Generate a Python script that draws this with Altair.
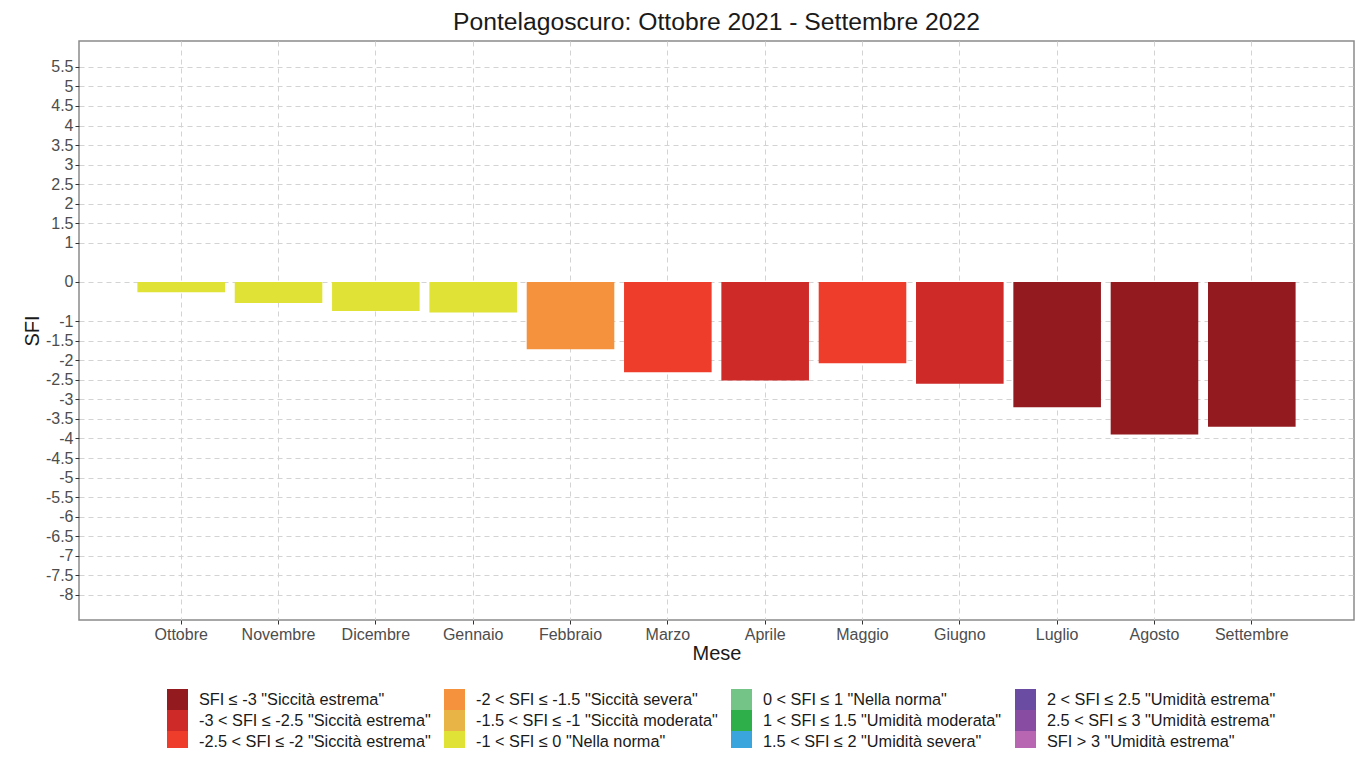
import altair as alt
import pandas as pd

months = ["Ottobre", "Novembre", "Dicembre", "Gennaio", "Febbraio", "Marzo",
          "Aprile", "Maggio", "Giugno", "Luglio", "Agosto", "Settembre"]
sfi = [-0.26, -0.54, -0.74, -0.78, -1.72, -2.31, -2.52, -2.08, -2.60, -3.20, -3.90, -3.70]

class_labels = [
    'SFI ≤ -3 "Siccità estrema"',
    '-3 < SFI ≤ -2.5 "Siccità estrema"',
    '-2.5 < SFI ≤ -2 "Siccità estrema"',
    '-2 < SFI ≤ -1.5 "Siccità severa"',
    '-1.5 < SFI ≤ -1 "Siccità moderata"',
    '-1 < SFI ≤ 0 "Nella norma"',
    '0 < SFI ≤ 1 "Nella norma"',
    '1 < SFI ≤ 1.5 "Umidità moderata"',
    '1.5 < SFI ≤ 2 "Umidità severa"',
    '2 < SFI ≤ 2.5 "Umidità estrema"',
    '2.5 < SFI ≤ 3 "Umidità estrema"',
    'SFI > 3 "Umidità estrema"',
]
class_upper = [-3, -2.5, -2, -1.5, -1, 0, 1, 1.5, 2, 2.5, 3, float("inf")]
class_colors = ["#931A1E", "#CD2A28", "#EE3D2A", "#F4923D", "#E8B445", "#E0E336",
                "#74C387", "#2EAF4A", "#3AA5DC", "#6A4DA3", "#894CA3", "#B865B2"]

y_ticks = [5.5, 5, 4.5, 4, 3.5, 3, 2.5, 2, 1.5, 1, 0, -1, -1.5, -2, -2.5, -3, -3.5,
           -4, -4.5, -5, -5.5, -6, -6.5, -7, -7.5, -8]


def classify(v):
    for lab, up in zip(class_labels, class_upper):
        if v <= up:
            return lab
    return class_labels[-1]


df = pd.DataFrame({"Mese": months, "SFI": sfi, "Classe": [classify(v) for v in sfi]})

FONT = "Liberation Sans"
W, H = 1275, 579

chart = alt.Chart(df).mark_bar().encode(
    x=alt.X("Mese:N", sort=months,
            scale=alt.Scale(paddingInner=0.1, paddingOuter=0.6),
            axis=alt.Axis(title="Mese", labelAngle=0, labelFontSize=16, labelColor="#4D4D4D",
                          labelFont=FONT, labelPadding=2, tickSize=4, tickColor="#333333",
                          domain=False, grid=True, gridDash=[5, 4], gridColor="#D3D3D3",
                          bandPosition=0.5,
                          titleFont=FONT, titleFontSize=20, titleFontWeight="normal",
                          titleColor="#1A1A1A", titleX=W / 2, titleY=33,
                          titleBaseline="middle", titleAlign="center")),
    y=alt.Y("SFI:Q",
            scale=alt.Scale(domain=[-8.64, 6.16], nice=False, zero=False),
            axis=alt.Axis(title="SFI", values=y_ticks, labelExpr="'' + datum.value",
                          labelFontSize=16, labelColor="#4D4D4D", labelFont=FONT,
                          labelPadding=2, tickSize=4, tickColor="#333333", domain=False,
                          grid=True, gridDash=[5, 4], gridColor="#D3D3D3",
                          titleFont=FONT, titleFontSize=20, titleFontWeight="normal",
                          titleColor="#1A1A1A", titleX=-47, titleY=H / 2, titleAngle=270,
                          titleBaseline="middle", titleAlign="center")),
    y2=alt.datum(0),
    color=alt.Color("Classe:N", title=None,
                    scale=alt.Scale(domain=class_labels, range=class_colors),
                    legend=alt.Legend(orient="none", legendX=88, legendY=648, columns=4,
                                      symbolType="square", symbolSize=441,
                                      symbolStrokeWidth=0, symbolOpacity=1,
                                      labelFont=FONT, labelFontSize=16.3, labelColor="#1A1A1A",
                                      labelOffset=11, labelLimit=1000, rowPadding=0,
                                      columnPadding=13, padding=0)),
).properties(
    width=W, height=H,
    title=alt.Title("Pontelagoscuro: Ottobre 2021 - Settembre 2022", font=FONT, fontSize=24.7,
                    fontWeight="normal", color="#1A1A1A", anchor="middle", offset=6),
    autosize=alt.AutoSizeParams(type="none"),
    padding={"left": 71, "top": 33, "right": 3, "bottom": 128},
).configure_view(stroke="#8A8A8A", strokeWidth=1.5)

chart.save("out.html", embed_options={"renderer": "svg", "actions": False})
